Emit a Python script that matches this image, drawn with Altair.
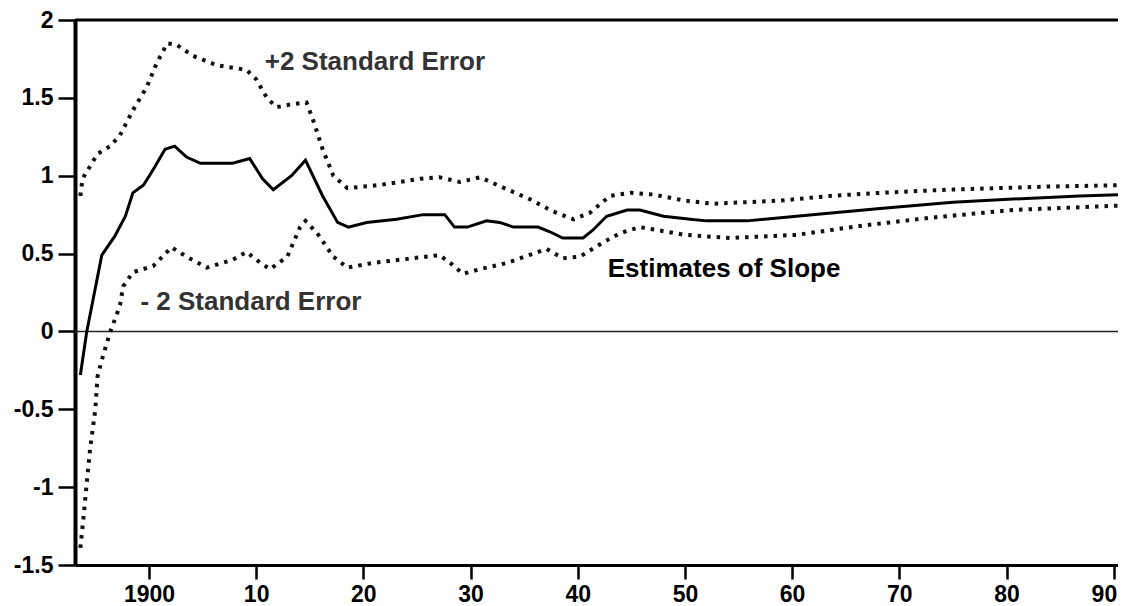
import altair as alt
import pandas as pd

# Solid line: estimates of slope
est_year = [1893.6, 1894.2, 1895.6, 1896.8, 1897.8, 1898.5, 1899.5, 1900.4, 1901.5, 1902.4,
            1903.5, 1904.8, 1907.8, 1909.4, 1910.6, 1911.6, 1913.3, 1914.6, 1916.2, 1917.6,
            1918.6, 1920.3, 1923.1, 1925.6, 1927.6, 1928.5, 1929.7, 1931.5, 1932.7, 1934.0,
            1936.3, 1937.4, 1938.6, 1940.5, 1941.4, 1942.7, 1944.6, 1945.8, 1948.0, 1950.5,
            1952.0, 1955.8, 1961.9, 1968.2, 1975.0, 1980.6, 1986.8, 1991.2]
est_val = [-0.28, 0.0, 0.49, 0.61, 0.74, 0.89, 0.94, 1.04, 1.17, 1.19,
           1.12, 1.08, 1.08, 1.11, 0.98, 0.91, 1.0, 1.10, 0.87, 0.70,
           0.67, 0.70, 0.72, 0.75, 0.75, 0.67, 0.67, 0.71, 0.70, 0.67,
           0.67, 0.64, 0.60, 0.60, 0.65, 0.74, 0.78, 0.78, 0.74, 0.72,
           0.71, 0.71, 0.75, 0.79, 0.83, 0.85, 0.87, 0.88]

# +2 standard error band
up_year = [1893.6, 1893.8, 1895.2, 1896.4, 1897.3, 1898.5, 1899.8, 1900.7, 1901.7, 1902.6,
           1904.1, 1906.3, 1909.1, 1910.0, 1911.0, 1911.9, 1913.4, 1914.7, 1915.3, 1916.2,
           1917.2, 1918.5, 1921.5, 1925.3, 1927.1, 1929.0, 1930.9, 1932.5, 1935.5, 1937.7,
           1939.6, 1941.1, 1943.0, 1944.9, 1947.0, 1950.0, 1952.6, 1958.9, 1963.5, 1968.2,
           1974.4, 1983.8, 1991.2]
up_val = [0.87, 0.98, 1.14, 1.19, 1.26, 1.42, 1.57, 1.72, 1.85, 1.84,
          1.77, 1.71, 1.68, 1.62, 1.50, 1.44, 1.46, 1.47, 1.36, 1.17,
          1.0, 0.92, 0.94, 0.98, 0.99, 0.96, 0.99, 0.94, 0.85, 0.77,
          0.72, 0.76, 0.87, 0.89, 0.88, 0.84, 0.82, 0.84, 0.87, 0.89,
          0.91, 0.93, 0.94]

# -2 standard error band
lo_year = [1893.6, 1893.9, 1894.2, 1894.5, 1895.0, 1895.2, 1895.7, 1896.4, 1897.0, 1897.3,
           1897.6, 1898.5, 1900.4, 1902.1, 1903.5, 1905.4, 1907.8, 1909.1, 1910.4, 1911.3,
           1912.9, 1914.1, 1914.6, 1915.7, 1917.2, 1918.5, 1920.9, 1924.6, 1927.1, 1928.1,
           1929.3, 1930.9, 1933.4, 1937.1, 1938.6, 1940.2, 1942.1, 1943.9, 1945.8, 1950.0,
           1954.2, 1960.4, 1966.6, 1972.9, 1980.6, 1991.2]
lo_val = [-1.39, -1.19, -0.97, -0.76, -0.50, -0.29, -0.16, 0.0, 0.11, 0.17,
          0.29, 0.38, 0.42, 0.54, 0.48, 0.41, 0.46, 0.51, 0.44, 0.40,
          0.48, 0.67, 0.71, 0.63, 0.48, 0.41, 0.44, 0.47, 0.49, 0.44,
          0.37, 0.40, 0.44, 0.53, 0.47, 0.48, 0.56, 0.63, 0.67, 0.62,
          0.60, 0.62, 0.68, 0.73, 0.78, 0.81]

# Annotations (anchor year, value, text)
se_label_year = [1910.8, 1899.2]
se_label_val = [1.68, 0.135]
se_label_text = ["+2 Standard Error", "- 2 Standard Error"]
est_label_year = [1942.8]
est_label_val = [0.347]
est_label_text = ["Estimates of Slope"]

x_ticks = [1900, 1910, 1920, 1930, 1940, 1950, 1960, 1970, 1980, 1990]
y_ticks = [-1.5, -1, -0.5, 0, 0.5, 1, 1.5, 2]
x_domain = [1893.1, 1990.4]
y_domain = [-1.5, 2]

FONT = "Liberation Sans"
W = 1043

xs = alt.Scale(domain=x_domain, nice=False, zero=False)
ys = alt.Scale(domain=y_domain, nice=False, zero=False)

x_axis = alt.Axis(values=x_ticks, title=None, grid=False, tickSize=14, tickWidth=2.5,
                  domainWidth=3, domainColor="black", tickColor="black",
                  labelFont=FONT, labelFontSize=23, labelFontWeight="bold", labelColor="black",
                  labelPadding=4, labelFlush=False,
                  labelAlign={"condition": {"test": "datum.value == 1990", "value": "right"}, "value": "center"},
                  labelOffset={"condition": {"test": "datum.value == 1990", "value": 3}, "value": 0},
                  labelExpr="datum.value == 1900 ? '1900' : toString(datum.value % 100)")
y_axis = alt.Axis(values=y_ticks, title=None, grid=False, tickSize=17, tickWidth=2.5,
                  domainWidth=4, domainColor="black", tickColor="black",
                  labelFont=FONT, labelFontSize=23, labelFontWeight="bold", labelColor="black",
                  labelPadding=5, labelExpr="toString(datum.value)")

est_df = pd.DataFrame({"year": est_year, "val": est_val})
up_df = pd.DataFrame({"year": up_year, "val": up_val})
lo_df = pd.DataFrame({"year": lo_year, "val": lo_val})

zero_rule = alt.Chart(pd.DataFrame({"y": [0]})).mark_rule(color="#222", strokeWidth=1.5).encode(
    x=alt.value(0),
    x2=alt.value(W),
    y=alt.Y("y:Q", scale=ys, axis=y_axis),
)

top_rule = alt.Chart(pd.DataFrame({"y": [2]})).mark_rule(color="black", strokeWidth=3).encode(
    x=alt.value(0),
    x2=alt.value(W),
    y=alt.Y("y:Q", scale=ys),
)

est_line = alt.Chart(est_df).mark_line(color="black", strokeWidth=3, clip=True).encode(
    x=alt.X("year:Q", scale=xs, axis=x_axis),
    y=alt.Y("val:Q", scale=ys),
)

dot_style = dict(color="#111", strokeWidth=4, strokeDash=[3.5, 6], strokeCap="butt", clip=True)
up_line = alt.Chart(up_df).mark_line(**dot_style).encode(
    x=alt.X("year:Q", scale=xs),
    y=alt.Y("val:Q", scale=ys),
)
lo_line = alt.Chart(lo_df).mark_line(**dot_style).encode(
    x=alt.X("year:Q", scale=xs),
    y=alt.Y("val:Q", scale=ys),
)

se_text = alt.Chart(pd.DataFrame({"year": se_label_year, "val": se_label_val, "t": se_label_text})).mark_text(
    font=FONT, fontSize=26, fontWeight="bold", color="#333", align="left", baseline="alphabetic"
).encode(x=alt.X("year:Q", scale=xs), y=alt.Y("val:Q", scale=ys), text="t:N")

est_text = alt.Chart(pd.DataFrame({"year": est_label_year, "val": est_label_val, "t": est_label_text})).mark_text(
    font=FONT, fontSize=26, fontWeight="bold", color="black", align="left", baseline="alphabetic"
).encode(x=alt.X("year:Q", scale=xs), y=alt.Y("val:Q", scale=ys), text="t:N")

chart = alt.layer(zero_rule, top_rule, up_line, lo_line, est_line, se_text, est_text).properties(
    width=W, height=545,
    autosize=alt.AutoSizeParams(type="none"),
    padding={"left": 67, "top": 12, "right": 0, "bottom": 40},
    background="white",
).configure_view(stroke=None)

chart.save("out.html", embed_options={"renderer": "svg", "actions": False})
